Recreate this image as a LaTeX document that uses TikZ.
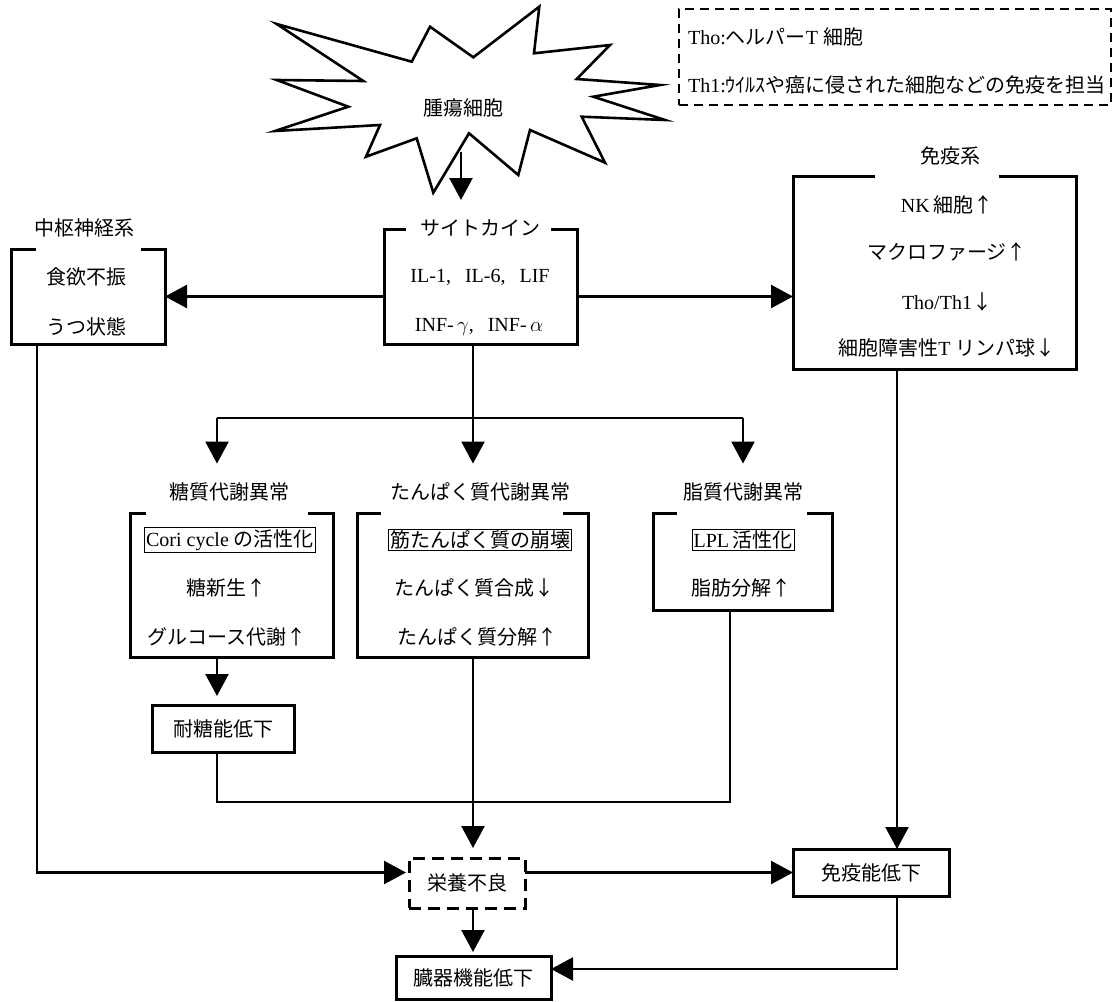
\documentclass[tikz,border=0pt]{standalone}
\usepackage{fontspec}
\setmainfont{Liberation Serif}
\newfontfamily\jp{Noto Sans CJK JP}
\usetikzlibrary{arrows.meta, positioning, calc}

\begin{document}
\begin{tikzpicture}[x=1pt, y=-1pt,
    font=\fontsize{20}{24}\selectfont,
    area/.style={rectangle, inner sep=0pt, outer sep=0pt},
    frame/.style={line width=3pt},
    tag/.style={inner sep=2pt},
    row/.style={inner sep=2pt},
    inbox/.style={draw, line width=0.9pt, inner sep=1.5pt},
    result/.style={rectangle, draw, line width=3pt, inner sep=0pt, outer sep=0pt},
    note/.style={rectangle, draw, dashed, line width=1.6pt, dash pattern=on 9pt off 6pt},
    arr/.style={-{Triangle[length=22pt, width=23pt]}, line width=2.4pt},
    conn/.style={line width=2.4pt}
]
\useasboundingbox (0,0) rectangle (1113,1001);

% tumour burst
\draw[line width=2.6pt] (276.7,24) -- (411.7,61.7) -- (430,26.7) -- (473.3,57.3)
  -- (539.3,6.7) -- (534,53.3) -- (610,45) -- (576.7,79) -- (660,85) -- (593.3,96.7)
  -- (665,120) -- (581.7,116.7) -- (605,162.7) -- (530,130) -- (518.3,175)
  -- (469,133.3) -- (433.3,192.7) -- (416.7,138.3) -- (366,156.7) -- (380,125)
  -- (275,131) -- (348.3,106.7) -- (276.7,80) -- (363.3,81) -- cycle;
\node (tumor) at (463,108) {\jp 腫瘍細胞};
\coordinate (burstfoot) at (461,152);
\coordinate (cytotip) at (461,200);

% legend
\node[note, minimum width=432pt, minimum height=96pt] (legend) at (895,57) {};
\node[anchor=west, inner sep=0pt] (leg1) at (688,37) {Tho:{\jp ヘルパー}T {\jp 細胞}};
\node[anchor=west, inner sep=0pt] (leg2) at (688,85) {Th1:{\jp ｳｲﾙｽや癌に侵された細胞などの免疫を担当}};

% upper boxes
\node[area, minimum width=153.5pt, minimum height=95pt] (cns) at (88.25,296.5) {};
\node[tag] (cnsl) at (84,228) {\jp 中枢神経系};
\node[row] (cns1) at (86,277) {\jp 食欲不振};
\node[row] (cns2) at (86,327) {\jp うつ状態};

\node[area, minimum width=193pt, minimum height=115pt] (cyto) at (480.5,286.5) {};
\node[tag] (cytol) at (480,228) {\jp サイトカイン};
\node[row] (cyto1) at (480,277) {IL-1,\hspace{14pt}IL-6,\hspace{14pt}LIF};
\node[row] (cyto2) at (479,327) {INF-\,$\gamma$,\hspace{14pt}INF-\,$\alpha$};

\node[area, minimum width=283pt, minimum height=193pt] (imm) at (934.5,272.5) {};
\node[tag] (imml) at (950,156) {\jp 免疫系};
\node[row] (imm1) at (947,205) {NK\,{\jp 細胞↑}};
\node[row] (imm2) at (947,252) {\jp マクロファージ↑};
\node[row] (imm3) at (947,302) {Tho/Th1{\jp ↓}};
\node[row] (imm4) at (947,348) {{\jp 細胞障害性}T {\jp リンパ球↓}};

% metabolism boxes
\node[area, minimum width=203pt, minimum height=144pt] (carb) at (231.5,585) {};
\node[tag] (carbl) at (229,492) {\jp 糖質代謝異常};
\node[inbox] (carb1) at (230,540) {Cori cycle {\jp の活性化}};
\node[row] (carb2) at (226,588) {\jp 糖新生↑};
\node[row] (carb3) at (227,637) {\jp グルコース代謝↑};

\node[area, minimum width=230.4pt, minimum height=144pt] (prot) at (472.8,585) {};
\node[tag] (protl) at (480,492) {\jp たんぱく質代謝異常};
\node[inbox] (prot1) at (480,540) {\jp 筋たんぱく質の崩壊};
\node[row] (prot2) at (474,588) {\jp たんぱく質合成↓};
\node[row] (prot3) at (477,637) {\jp たんぱく質分解↑};

\node[area, minimum width=179pt, minimum height=97pt] (lip) at (742.5,561.5) {};
\node[tag] (lipl) at (743,492) {\jp 脂質代謝異常};
\node[inbox] (lip1) at (743,540) {LPL\,{\jp 活性化}};
\node[row] (lip2) at (741,588) {\jp 脂肪分解↑};

% open frames
\draw[frame] ([xshift=24.5pt]cns.north west) -- (cns.north west) -- (cns.south west)
  -- (cns.south east) -- (cns.north east) -- ([xshift=-24pt]cns.north east);
\draw[frame] ([xshift=22pt]cyto.north west) -- (cyto.north west) -- (cyto.south west)
  -- (cyto.south east) -- (cyto.north east) -- ([xshift=-26pt]cyto.north east);
\draw[frame] ([xshift=82pt]imm.north west) -- (imm.north west) -- (imm.south west)
  -- (imm.south east) -- (imm.north east) -- ([xshift=-77pt]imm.north east);
\draw[frame] ([xshift=16pt]carb.north west) -- (carb.north west) -- (carb.south west)
  -- (carb.south east) -- (carb.north east) -- ([xshift=-25pt]carb.north east);
\draw[frame] ([xshift=23.4pt]prot.north west) -- (prot.north west) -- (prot.south west)
  -- (prot.south east) -- (prot.north east) -- ([xshift=-25pt]prot.north east);
\draw[frame] ([xshift=24pt]lip.north west) -- (lip.north west) -- (lip.south west)
  -- (lip.south east) -- (lip.north east) -- ([xshift=-25pt]lip.north east);

% outcome boxes
\node[result, minimum width=142pt, minimum height=47pt] (ttol) at (223.6,728.5) {\jp 耐糖能低下};
\node[result, dashed, dash pattern=on 12pt off 7pt, minimum width=116pt, minimum height=50pt] (nutr) at (467,883) {\jp 栄養不良};
\node[result, minimum width=156pt, minimum height=47pt] (immlow) at (871,872.5) {\jp 免疫能低下};
\node[result, minimum width=155pt, minimum height=43pt] (organ) at (473.5,977.5) {\jp 臓器機能低下};

\coordinate (split) at (473,418);
\coordinate (dropC) at (217,418);
\coordinate (dropL) at (743,418);
\coordinate (immdrop) at (897,369);
\coordinate (botbar) at (473,802);

% connectors
\draw[arr] (burstfoot) -- (cytotip);
\draw[arr] (cyto.west |- cns.east) -- (cns.east);
\draw[arr] (cyto.east |- cns.east) -- (imm.west |- cns.east);
\draw[conn] (cyto.south -| split) -- (split);
\draw[conn] (dropC) -- (dropL);
\draw[arr, shorten >=17pt] (dropC) -- (dropC |- carbl.north);
\draw[arr, shorten >=17pt] (split) -- (split |- protl.north);
\draw[arr, shorten >=17pt] (dropL) -- (dropL |- lipl.north);
\draw[arr, shorten >=9pt] (carb.south -| dropC) -- (ttol.north -| dropC);
\draw[conn] (ttol.south -| dropC) |- (botbar) -| ([xshift=-12.5pt]lip.south);
\draw[arr, shorten >=10pt] (prot.south -| split) -- (nutr.north -| split);
\draw[arr, shorten >=3pt] ([xshift=25.5pt]cns.south west) |- (nutr.west |- immlow.west);
\draw[arr] (nutr.east |- immlow.west) -- (immlow.west);
\draw[arr] (immdrop) -- (immdrop |- immlow.north);
\draw[arr, shorten >=4pt] (nutr.south -| split) -- (organ.north -| split);
\draw[arr] (immdrop |- immlow.south) |- ([yshift=8.5pt]organ.east);
\end{tikzpicture}
\end{document}
